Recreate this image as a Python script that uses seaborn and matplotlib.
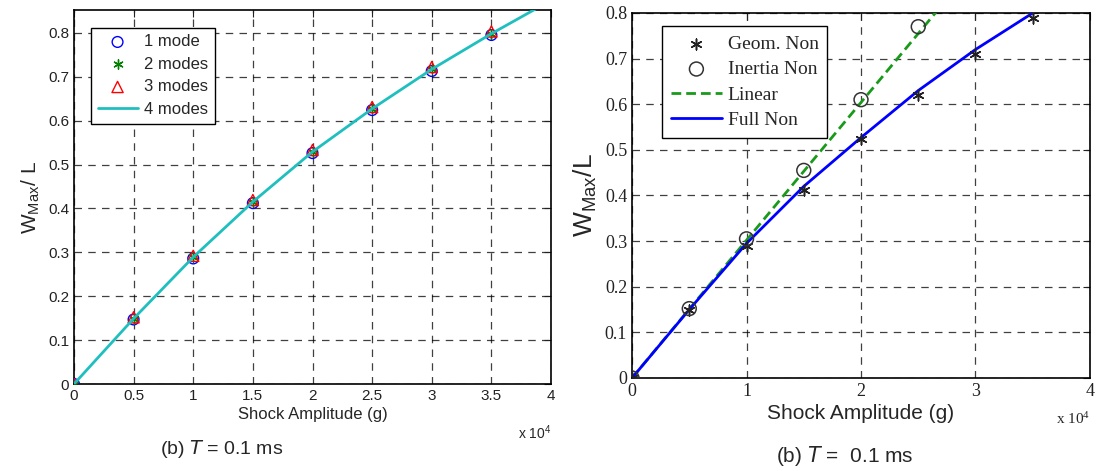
import numpy as np
import pandas as pd
import seaborn as sns
import matplotlib.pyplot as plt

# left panel: modal convergence (shock amplitude in 1e4 g)
amp_left = [0, 0.5, 1.0, 1.5, 2.0, 2.5, 3.0, 3.5]
mode1 = [0, 0.147, 0.286, 0.412, 0.526, 0.624, 0.713, 0.795]
mode2 = [0, 0.149, 0.289, 0.415, 0.529, 0.627, 0.717, 0.798]
mode3 = [0, 0.152, 0.292, 0.419, 0.533, 0.631, 0.722, 0.803]
amp_line = [0, 0.5, 1.0, 1.5, 2.0, 2.5, 3.0, 3.5, 4.0]
mode4 = [0, 0.149, 0.289, 0.415, 0.529, 0.627, 0.717, 0.798, 0.874]
xticks_left = [0, 0.5, 1, 1.5, 2, 2.5, 3, 3.5, 4]
xlabels_left = ["0", "0.5", "1", "1.5", "2", "2.5", "3", "3.5", "4"]

# right panel: nonlinear effects
amp_right = [0, 0.5, 1.0, 1.5, 2.0, 2.5, 3.0, 3.5]
geom_non = [0, 0.150, 0.290, 0.412, 0.524, 0.620, 0.710, 0.790]
amp_inertia = [0, 0.5, 1.0, 1.5, 2.0, 2.5]
inertia_non = [0, 0.152, 0.305, 0.455, 0.610, 0.770]
amp_lin = [0, 0.5, 1.0, 1.5, 2.0, 2.5, 3.0]
linear = [0, 0.151, 0.302, 0.453, 0.604, 0.755, 0.906]
full_non = [0, 0.150, 0.295, 0.420, 0.527, 0.630, 0.720, 0.800]
xticks_right = [0, 1, 2, 3, 4]
xlabels_right = ["0", "1", "2", "3", "4"]

yticks = [0, 0.1, 0.2, 0.3, 0.4, 0.5, 0.6, 0.7, 0.8]
ylabels = ["0", "0.1", "0.2", "0.3", "0.4", "0.5", "0.6", "0.7", "0.8"]

sns.set_style("white")
plt.rcParams["mathtext.default"] = "regular"
plt.rcParams["font.family"] = ["Liberation Sans", "DejaVu Sans"]

fig = plt.figure(figsize=(10.99, 4.71), dpi=100)
ax1 = fig.add_axes([0.0673, 0.1847, 0.4341, 0.7941])
ax2 = fig.add_axes([0.5751, 0.1975, 0.4167, 0.7749])

grid_kw = dict(color="black", linestyle=(0, (6, 5)), linewidth=0.9, alpha=0.75)

# ---- left panel ----
sns.scatterplot(x=amp_left, y=mode1, ax=ax1, marker="o", s=60, facecolors="none",
                edgecolor="blue", linewidth=1.0, label="1 mode", zorder=3)
sns.scatterplot(x=amp_left, y=mode2, ax=ax1, marker=(6, 2, 0), s=45,
                color="green", linewidth=1.0, label="2 modes", zorder=3)
sns.scatterplot(x=amp_left, y=mode3, ax=ax1, marker="^", s=65, facecolors="none",
                edgecolor="red", linewidth=1.0, label="3 modes", zorder=3)
sns.lineplot(x=amp_line, y=mode4, ax=ax1, color="#1fbfbf", linewidth=2,
             label="4 modes", zorder=4)

ax1.set_xlim(0, 4)
ax1.set_ylim(0, 0.852)
ax1.set_xticks(xticks_left, xlabels_left)
ax1.set_yticks(yticks, ylabels)
ax1.grid(True, **grid_kw)
ax1.tick_params(direction="in", top=True, right=True, length=5, labelsize=11,
                colors="#222222")
ax1.set_xlabel("Shock Amplitude (g)", fontsize=12, labelpad=3)
ax1.set_ylabel("$W_{Max}/\\ L$", fontsize=15, labelpad=4)
leg1 = ax1.legend(loc="upper left", bbox_to_anchor=(0.018, 0.975), fontsize=12,
                  frameon=True, fancybox=False, edgecolor="black", framealpha=1,
                  borderpad=0.4, labelspacing=0.45, handlelength=2.4,
                  handletextpad=0.4)
leg1.get_frame().set_linewidth(1.0)
ax1.text(1.0, -0.105, "x 10$^4$", transform=ax1.transAxes, ha="right",
         va="top", fontsize=10)
ax1.text(0.31, -0.145, "(b) $\\it{T}$ = 0.1 ms", transform=ax1.transAxes,
         ha="center", va="top", fontsize=14)

# ---- right panel ----
sns.lineplot(x=amp_lin, y=linear, ax=ax2, color="#1a9a1a", linewidth=2,
             linestyle=(0, (3.5, 1.8)), label="Linear", zorder=3)
sns.lineplot(x=amp_right, y=full_non, ax=ax2, color="blue", linewidth=2,
             label="Full Non", zorder=3)
sns.scatterplot(x=amp_right, y=geom_non, ax=ax2, marker=(6, 2, 0), s=60,
                color="#222222", linewidth=1.1, label="Geom. Non", zorder=4)
sns.scatterplot(x=amp_inertia, y=inertia_non, ax=ax2, marker="o", s=100,
                facecolors="none", edgecolor="#333333", linewidth=1.1,
                label="Inertia Non", zorder=4)

ax2.set_xlim(0, 4)
ax2.set_ylim(0, 0.8)
ax2.set_xticks(xticks_right, xlabels_right)
ax2.set_yticks(yticks, ylabels)
ax2.grid(True, **grid_kw)
ax2.tick_params(direction="in", top=True, right=True, length=5, labelsize=13,
                colors="#222222")
for lbl in ax2.get_xticklabels() + ax2.get_yticklabels():
    lbl.set_family("Liberation Serif")
ax2.set_xlabel("Shock Amplitude (g)", fontsize=15, labelpad=3)
ax2.set_ylabel("$W_{Max}/L$", fontsize=19, labelpad=4)
h, l = ax2.get_legend_handles_labels()
order = [l.index(k) for k in ["Geom. Non", "Inertia Non", "Linear", "Full Non"]]
leg2 = ax2.legend([h[i] for i in order], [l[i] for i in order], loc="upper left",
                  bbox_to_anchor=(0.045, 0.99), frameon=True, fancybox=False,
                  edgecolor="black", framealpha=1, borderpad=0.45,
                  labelspacing=0.4, handlelength=2.6, handletextpad=0.3,
                  prop={"family": "Liberation Serif", "size": 14})
leg2.get_frame().set_linewidth(1.0)
ax2.text(1.0, -0.09, "x 10$^4$", transform=ax2.transAxes, ha="right",
         va="top", fontsize=11, family="Liberation Serif")
ax2.text(0.465, -0.18, "(b) $\\it{T}$ =  0.1 ms", transform=ax2.transAxes,
         ha="center", va="top", fontsize=15)

for ax in (ax1, ax2):
    for sp in ax.spines.values():
        sp.set_visible(True)
        sp.set_color("black")
        sp.set_linewidth(1.2)

fig.savefig("out.png", dpi=100)
